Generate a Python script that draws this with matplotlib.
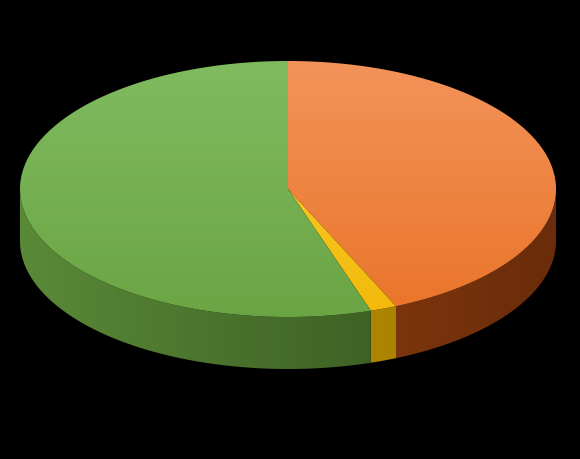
import numpy as np
import matplotlib.pyplot as plt
from matplotlib.patches import Polygon
from matplotlib.colors import LinearSegmentedColormap

labels = ['Orange', 'Yellow', 'Green']
values = [43.4, 1.6, 55.0]
top_colors = [('#f3935a', '#e86e1f'), ('#ffd23a', '#f0b400'), ('#80bb60', '#66a03e')]
side_colors = [('#a24a15', '#6a2c0a'), ('#c89a00', '#a07a00'), ('#5a8a38', '#2f4d1a')]

cx, cy = 288, 270
rx, ry = 268, 128
depth = 52

fig = plt.figure(figsize=(5.8, 4.6), dpi=100, facecolor='black')
ax = fig.add_axes([0, 0, 1, 1])
ax.set_xlim(0, 580)
ax.set_ylim(0, 460)
ax.axis('off')
ax.set_facecolor('black')


def arc(t0, t1, n=200):
    t = np.radians(np.linspace(t0, t1, n))
    return np.column_stack([cx + rx * np.cos(t), cy + ry * np.sin(t)])


def fill_gradient(poly, c0, c1, horizontal, z):
    ax.add_patch(poly)
    cmap = LinearSegmentedColormap.from_list('g', [c0, c1])
    if horizontal:
        g = np.linspace(0, 1, 256)[None, :]
    else:
        g = np.linspace(1, 0, 256)[:, None]
    im = ax.imshow(g, cmap=cmap, extent=[cx - rx, cx + rx, cy - ry - depth, cy + ry],
                   origin='lower', aspect='auto', zorder=z)
    im.set_clip_path(poly)


total = sum(values)
start = 90.0
spans = []
for v in values:
    end = start - v / total * 360
    spans.append((end, start))
    start = end

# side walls (front half only: 180..360 deg)
for (a0, a1), (c0, c1) in zip(spans, side_colors):
    a0m, a1m = a0 % 360, a0 % 360 + (a1 - a0)
    for off in (0, 360, -360):
        lo = max(a0m + off, 180)
        hi = min(a1m + off, 360)
        if hi > lo:
            top = arc(lo, hi)
            bot = top[::-1] - [0, depth]
            poly = Polygon(np.vstack([top, bot]), closed=True, facecolor='none',
                           edgecolor='none', zorder=1)
            fill_gradient(poly, c0, c1, True, 1)

# top faces
for (a0, a1), (c0, c1) in zip(spans, top_colors):
    pts = np.vstack([[cx, cy], arc(a0, a1)])
    poly = Polygon(pts, closed=True, facecolor='none', edgecolor='none', zorder=2)
    fill_gradient(poly, c0, c1, False, 2)

ax.set_xlim(0, 580)
ax.set_ylim(0, 460)
fig.savefig('out.png', dpi=100, facecolor='black')
